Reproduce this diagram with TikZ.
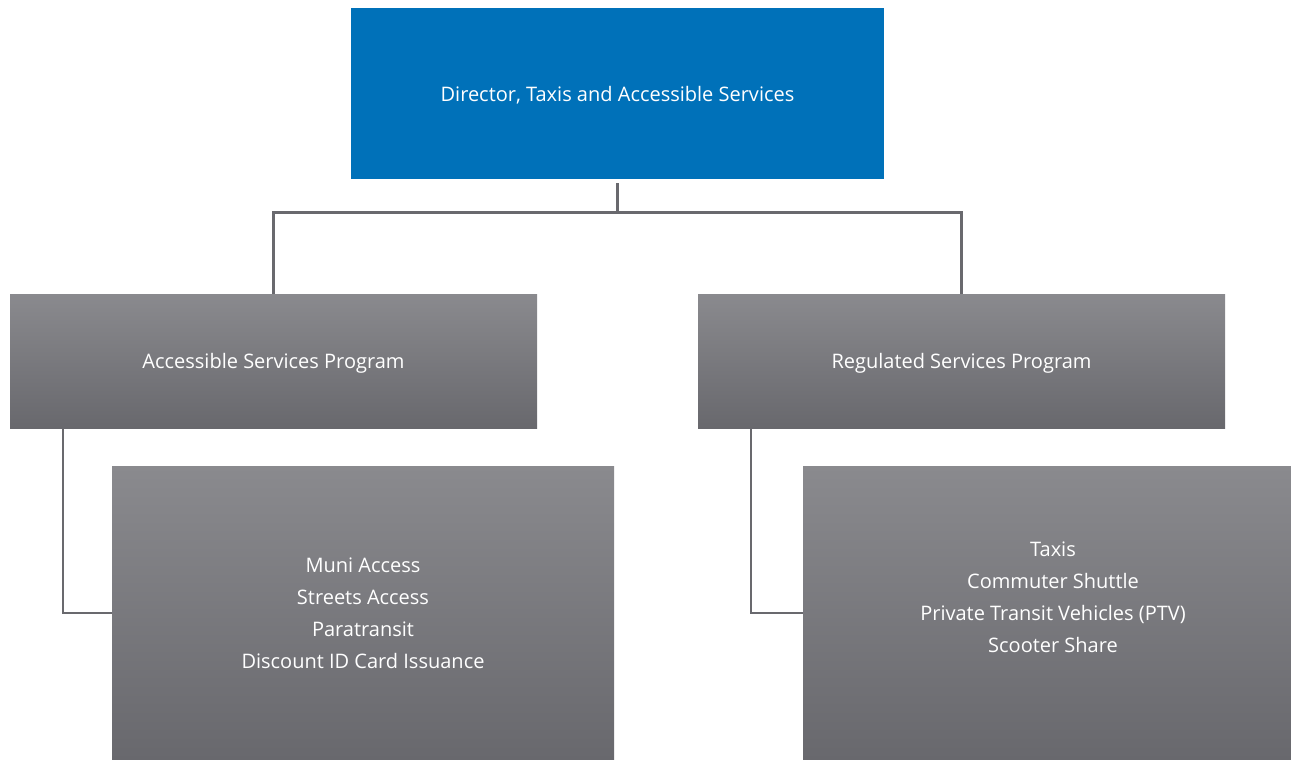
\documentclass[tikz,border=0pt]{standalone}
\usepackage{fontspec}
\setmainfont{Open Sans}
\usetikzlibrary{calc}
\definecolor{dirblue}{RGB}{0,113,185}
\definecolor{gtop}{RGB}{138,138,142}
\definecolor{gbot}{RGB}{104,104,109}
\definecolor{conncol}{RGB}{105,105,110}
\tikzset{
  boxsty/.style={inner sep=0pt, draw=none, text=white, align=center,
    font=\fontsize{20}{32}\selectfont},
  oneline/.style={text height=19.5pt},
  graybox/.style={boxsty, top color=gtop, bottom color=gbot},
  bluebox/.style={boxsty, fill=dirblue},
  conn/.style={draw=conncol, line width=2.6pt},
  lbl/.style={text=white, align=center, inner sep=0pt, font=\fontsize{20}{32}\selectfont}
}
\begin{document}
\begin{tikzpicture}[x=1pt,y=-1pt]
\useasboundingbox (0,0) rectangle (1291,760);
\clip (0,0) rectangle (1291,760);
\node[bluebox, oneline, minimum width=533pt, minimum height=171pt] (top) at (617.5,93.5) {Director, Taxis and Accessible Services};
\node[graybox, oneline, minimum width=527pt, minimum height=134pt] (asp) at (273.5,361) {Accessible Services Program};
\node[graybox, oneline, minimum width=527pt, minimum height=134pt] (rsp) at (961.5,361) {Regulated Services Program};
\node[graybox, minimum width=502pt, minimum height=294pt] (aspsub) at (363,613) {Muni Access\\Streets Access\\Paratransit\\Discount ID Card Issuance};
\node[graybox, minimum width=502pt, minimum height=294pt] (rspsub) at (1054,613) {};
\node[lbl] (rsptext) at (1053,597) {Taxis\\Commuter Shuttle\\Private Transit Vehicles (PTV)\\Scooter Share};
\coordinate (junc) at ($(top.south)+(0,33)$);
\draw[conn, shorten <=4pt] (top.south) -- (junc);
\draw[conn] (asp.north) |- (junc) -| (rsp.north);
\draw[conn] ($(asp.south west)+(53,0)$) |- (aspsub.west);
\draw[conn] ($(rsp.south west)+(53,0)$) |- (rspsub.west);
\end{tikzpicture}
\end{document}
